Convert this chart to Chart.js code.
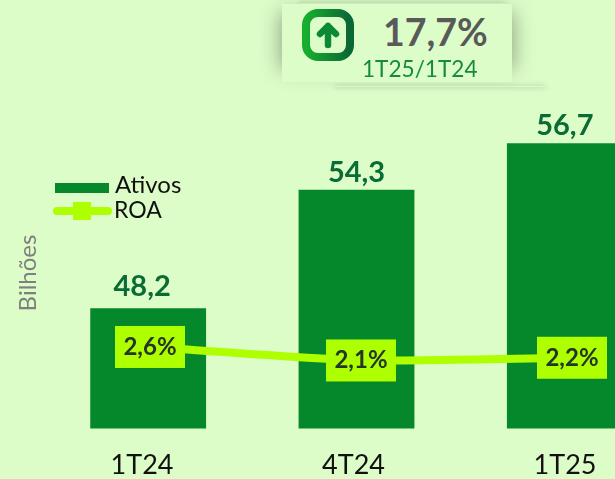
<!DOCTYPE html>
<html lang="pt">
<head>
<meta charset="utf-8">
<script src="https://cdn.jsdelivr.net/npm/chart.js@4"></script>
<style>
html,body{margin:0;padding:0;width:615px;height:479px;overflow:hidden;background:#DCFDC8;font-family:Lato,sans-serif}
#wrap{position:relative;width:615px;height:479px;overflow:hidden}
canvas{position:absolute;left:0;top:0}
.sh{position:absolute}
#panel{position:absolute;left:282px;top:4px;width:230px;height:78px;background:#DCFDC8}
#pct{position:absolute;left:383px;top:10px;font:bold 37.5px Lato,sans-serif;color:#595959;line-height:44px;white-space:nowrap}
#per{position:absolute;left:362px;top:55px;font:22.6px Lato,sans-serif;color:#178A3E;line-height:28px;white-space:nowrap}
svg{position:absolute;left:302px;top:9px}
</style>
</head>
<body>
<div id="wrap">
<canvas id="c" width="670" height="479"></canvas>
<div class="sh" style="left:284px;top:16px;width:226px;height:50px;background:rgba(0,0,0,.35);box-shadow:0 0 20px 4px rgba(0,0,0,.34)"></div>
<div class="sh" style="left:300px;top:3px;width:205px;height:1px;box-shadow:0 0 5px 1px rgba(0,0,0,.16)"></div>
<div class="sh" style="left:335px;top:86px;width:210px;height:1px;box-shadow:0 0 5px 1px rgba(0,0,0,.16)"></div>
<div id="panel"></div>
<svg width="52" height="52" viewBox="0 0 52 52">
<defs><linearGradient id="g" x1="0" x2="1" y1="0" y2="0"><stop offset="0" stop-color="#17AE2D"/><stop offset="1" stop-color="#0A6736"/></linearGradient></defs>
<rect x="4" y="4" width="44" height="44" rx="12" fill="#DCFDC8" stroke="url(#g)" stroke-width="8"/>
<path d="M26 17 L26 36 M18 25 L26 17 L34 25" fill="none" stroke="#0B8A33" stroke-width="6.5" stroke-linecap="round" stroke-linejoin="round"/>
</svg>
<div id="pct">17,7%</div>
<div id="per">1T25/1T24</div>
</div>
<script>
const categories = ['1T24', '4T24', '1T25'];
const ativos = [48.2, 54.3, 56.7];
const roa = [2.6, 2.1, 2.2];
const ativosLabels = ['48,2', '54,3', '56,7'];
const roaLabels = ['2,6%', '2,1%', '2,2%'];
const axisTitle = 'Bilhões';

const BAR = '#05872B', LINE = '#AEFF00';
const nudgeX = [-6, 0, 0];
const nudgeY = [-22, -17, -18];

const marks = {
  id: 'marks',
  afterDatasetsDraw(chart) {
    const c = chart.ctx;
    c.save();
    c.textAlign = 'center';
    c.textBaseline = 'middle';
    chart.getDatasetMeta(0).data.forEach((b, i) => {
      c.font = 'bold 29px Lato, sans-serif';
      c.fillStyle = '#0A6B35';
      c.fillText(ativosLabels[i], b.x + nudgeX[i], b.y + nudgeY[i]);
    });
    chart.getDatasetMeta(1).data.forEach((p, i) => {
      c.fillStyle = LINE;
      c.fillRect(p.x - 35, p.y - 21, 70, 42);
      c.font = 'bold 24px Lato, sans-serif';
      c.fillStyle = '#24352A';
      c.fillText(roaLabels[i], p.x, p.y);
    });
    // legend
    c.fillStyle = BAR;
    c.fillRect(55, 183, 54, 10);
    c.strokeStyle = LINE; c.lineWidth = 8; c.lineCap = 'round';
    c.beginPath(); c.moveTo(57, 211); c.lineTo(108, 211); c.stroke();
    c.fillStyle = LINE;
    c.fillRect(73, 202, 18, 18);
    c.textAlign = 'left';
    c.fillStyle = '#111';
    c.font = '24px Lato, sans-serif';
    c.fillText('Ativos', 115, 185);
    c.font = '23px Lato, sans-serif';
    c.fillText('ROA', 114, 211);
    c.restore();
  }
};

new Chart(document.getElementById('c'), {
  data: {
    labels: categories,
    datasets: [
      { type: 'bar', label: 'Ativos', data: ativos, backgroundColor: BAR, grouped: false,
        xAxisID: 'x', yAxisID: 'y', barPercentage: 0.556, categoryPercentage: 1, order: 2 },
      { type: 'line', label: 'ROA', data: roa.map((v, i) => ({ x: i, y: v })), borderColor: LINE,
        borderWidth: 8, tension: 0.15, pointRadius: 0, xAxisID: 'xLine', yAxisID: 'yLine', order: 1 }
    ]
  },
  options: {
    responsive: false,
    animation: false,
    events: [],
    layout: { padding: { top: 117.5, right: 1, left: 0, bottom: 0 } },
    plugins: { legend: { display: false }, tooltip: { enabled: false } },
    scales: {
      x: { type: 'category', display: false, offset: true },
      xLine: { type: 'linear', display: false, min: -0.5024, max: 2.4597 },
      xLabel: {
        type: 'linear', position: 'bottom', min: -0.4634, max: 2.4917,
        grid: { display: false }, border: { display: false },
        ticks: { stepSize: 1, includeBounds: false, autoSkip: false, maxRotation: 0, padding: 13,
          color: '#111', font: { family: 'Lato, sans-serif', size: 27 },
          callback: v => categories[v] },
        afterFit: s => { s.height = 50.5; }
      },
      y: {
        min: 42, max: 58.03, position: 'left',
        grid: { display: false }, border: { display: false },
        ticks: { display: false },
        title: { display: true, text: axisTitle, color: '#7F7F7F',
          font: { family: 'Lato, sans-serif', size: 24 }, padding: { top: 14, bottom: 0 } },
        afterFit: s => { s.width = 44; }
      },
      yLine: { min: -0.42, max: 11.1, display: false }
    }
  },
  plugins: [marks]
});
</script>
</body>
</html>
